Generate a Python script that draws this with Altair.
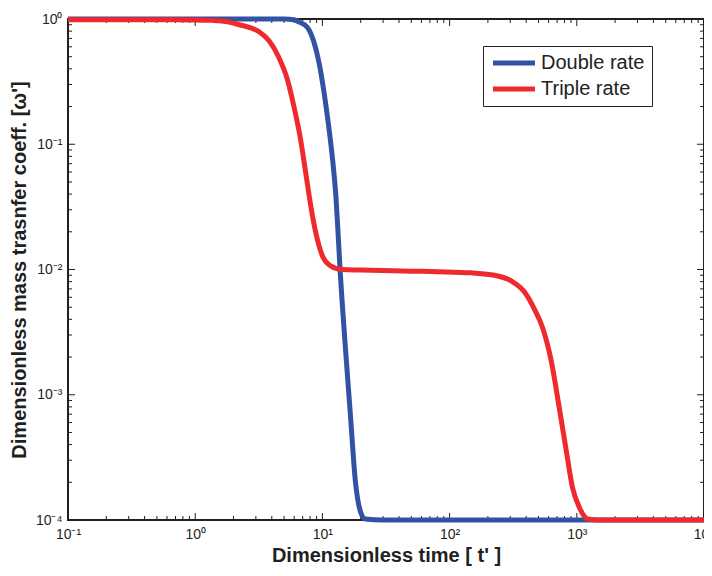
import altair as alt
import pandas as pd

# ---- data ----
t_double = [0.1, 1, 5, 6.0, 6.5, 7.6, 8.6, 9.4, 10.3, 11.2, 12.3, 12.8, 13.3, 13.8, 14.3, 15.2,
            16.6, 18.2, 19.9, 21.7, 30, 100, 1000, 10000]
w_double = [1, 1, 1, 0.985, 0.95, 0.86, 0.65, 0.45, 0.26, 0.14, 0.06, 0.037, 0.019, 0.0096, 0.0055,
            0.0023, 0.00069, 0.0002, 0.000117, 0.000102, 0.0001, 0.0001, 0.0001, 0.0001]

t_triple = [0.1, 0.5, 1, 1.36, 1.8, 2.22, 3.18, 3.81, 4.56, 5.3, 5.97, 6.74, 7.38, 8.07, 8.84, 9.95,
            11.6, 14.3, 20, 50, 81.5, 148, 226, 305, 388, 465, 540, 627, 729, 822, 927, 1047,
            1217, 1500, 10000]
w_triple = [0.985, 0.985, 0.983, 0.975, 0.95, 0.9, 0.79, 0.67, 0.49, 0.33, 0.2, 0.109, 0.06, 0.033,
            0.02, 0.013, 0.0107, 0.0100, 0.0099, 0.0097, 0.0096, 0.0094, 0.0090, 0.0081, 0.0066,
            0.0048, 0.0034, 0.0019, 0.00078, 0.00037, 0.00018, 0.000126, 0.000102, 0.0001, 0.0001]

series_names = ["Double rate", "Triple rate"]
series_colors = ["#3253A3", "#EE2A2E"]

x_decades = [0.1, 1, 10, 100, 1000, 10000]
y_decades = [0.0001, 0.001, 0.01, 0.1, 1]

x_minor = [m * d for d in [0.1, 1, 10, 100, 1000] for m in range(2, 10)]
y_minor = [m * d for d in [0.0001, 0.001, 0.01, 0.1] for m in range(2, 10)]

W, H = 636, 501
FONT = "Liberation Sans, Arial, Helvetica, sans-serif"
MAJ, MIN = 7, 4

df = pd.concat([
    pd.DataFrame({"t": t_double, "w": w_double, "series": series_names[0]}),
    pd.DataFrame({"t": t_triple, "w": w_triple, "series": series_names[1]}),
])

sup = "['⁻⁴','⁻³','⁻²','⁻¹','⁰','¹','²','³','⁴'][round(log(datum.value)/LN10)+4]"
label_expr = "'10' + " + sup

xscale = alt.Scale(type="log", domain=[0.1, 10000], nice=False)
yscale = alt.Scale(type="log", domain=[0.0001, 1], nice=False)

lines = alt.Chart(df).mark_line(strokeWidth=5, interpolate="monotone", clip=False).encode(
    x=alt.X("t:Q", scale=xscale,
            axis=alt.Axis(title="Dimensionless time [ t' ]", values=x_decades, labelExpr=label_expr,
                          ticks=False, domain=False, grid=False, labelFontSize=14,
                          labelPadding=7, titleFontSize=20, titleFontWeight="bold",
                          titlePadding=4, labelFlush=False)),
    y=alt.Y("w:Q", scale=yscale,
            axis=alt.Axis(title="Dimensionless mass trasnfer coeff. [ω']", values=y_decades,
                          labelExpr=label_expr, ticks=False, domain=False, grid=False,
                          labelFontSize=14, labelPadding=6, titleFontSize=20,
                          titleFontWeight="bold", titlePadding=6, labelFlush=False)),
    color=alt.Color("series:N", scale=alt.Scale(domain=series_names, range=series_colors),
                    legend=alt.Legend(title=None, orient="none", legendX=415, legendY=27,
                                      symbolType="M-1,0H5", symbolSize=196, symbolStrokeWidth=5,
                                      labelFontSize=20, labelOffset=31, rowPadding=6,
                                      padding=7, strokeColor="#222222", fillColor="white",
                                      labelColor="#222222")),
    order=alt.Order("series:N"),
)

axis_color = "#231F20"

def ticks_x(vals, length):
    d = pd.DataFrame({"v": vals})
    bot = alt.Chart(d).mark_rule(color=axis_color, strokeWidth=1).encode(
        x=alt.X("v:Q", scale=xscale), y=alt.value(H), y2=alt.value(H - length))
    top = alt.Chart(d).mark_rule(color=axis_color, strokeWidth=1).encode(
        x=alt.X("v:Q", scale=xscale), y=alt.value(0), y2=alt.value(length))
    return [bot, top]

def ticks_y(vals, length):
    d = pd.DataFrame({"v": vals})
    left = alt.Chart(d).mark_rule(color=axis_color, strokeWidth=1).encode(
        y=alt.Y("v:Q", scale=yscale), x=alt.value(0), x2=alt.value(length))
    right = alt.Chart(d).mark_rule(color=axis_color, strokeWidth=1).encode(
        y=alt.Y("v:Q", scale=yscale), x=alt.value(W), x2=alt.value(W - length))
    return [left, right]

tick_layers = ticks_x(x_decades, MAJ) + ticks_x(x_minor, MIN) + ticks_y(y_decades, MAJ) + ticks_y(y_minor, MIN)

chart = alt.layer(*tick_layers, lines).properties(
    width=W, height=H,
    autosize=alt.AutoSizeParams(type="none"),
    padding={"left": 60, "top": 11, "right": 0, "bottom": 47},
).configure_view(
    stroke=axis_color, strokeWidth=2
).configure_axis(
    labelFont=FONT, titleFont=FONT, labelColor="#231F20", titleColor="#231F20"
).configure_legend(
    labelFont=FONT
)

chart.save("out.html", embed_options={"renderer": "svg", "actions": False})
